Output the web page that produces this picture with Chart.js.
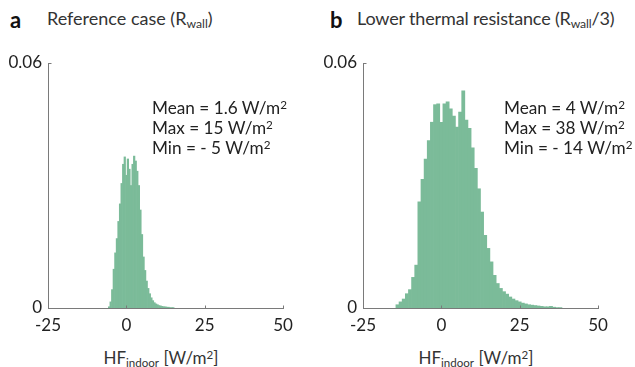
<!DOCTYPE html>
<html>
<head>
<meta charset="utf-8">
<script src="https://cdn.jsdelivr.net/npm/chart.js@4.4.1/dist/chart.umd.min.js"></script>
<style>
  html,body{margin:0;padding:0;background:#fff;}
  #wrap{position:relative;width:635px;height:367px;overflow:hidden;font-family:Lato,"Open Sans",sans-serif;color:#222;}
  canvas{position:absolute;}
  .lbl{position:absolute;white-space:nowrap;}
  .panel{font-weight:bold;font-size:22px;color:#111;}
  .title{font-size:18px;color:#333;}
  .stats{font-size:17.2px;line-height:20px;color:#222;}
  .xt{font-size:17px;color:#333;transform:translateX(-50%);}
  sub{font-size:0.68em;vertical-align:-0.25em;line-height:0;}
  sup{font-size:0.68em;vertical-align:0.45em;line-height:0;}
</style>
</head>
<body>
<div id="wrap">
  <canvas id="ca" width="317" height="300" style="left:0;top:40px;width:317px;height:300px"></canvas>
  <canvas id="cb" width="318" height="300" style="left:317px;top:40px;width:318px;height:300px"></canvas>

  <div class="lbl panel" style="left:10px;top:6px;">a</div>
  <div class="lbl title" style="left:47px;top:7px;">Reference case (R<sub>wall</sub>)</div>
  <div class="lbl panel" style="left:330px;top:6px;">b</div>
  <div class="lbl title" style="left:357px;top:7px;letter-spacing:-0.15px;">Lower thermal resistance (R<sub>wall</sub>/3)</div>

  <div class="lbl stats" style="left:152px;top:98px;">Mean = 1.6 W/m<sup>2</sup><br>Max = 15 W/m<sup>2</sup><br>Min = - 5 W/m<sup>2</sup></div>
  <div class="lbl stats" style="left:504px;top:98px;">Mean = 4 W/m<sup>2</sup><br>Max = 38 W/m<sup>2</sup><br>Min = - 14 W/m<sup>2</sup></div>

  <div class="lbl xt" style="left:161px;top:347px;">HF<sub>indoor</sub> [W/m<sup>2</sup>]</div>
  <div class="lbl xt" style="left:476px;top:347px;">HF<sub>indoor</sub> [W/m<sup>2</sup>]</div>
</div>
<script>
// ---- data ----
const binsA = [-5.5,-5,-4.5,-4,-3.5,-3,-2.5,-2,-1.5,-1,-0.5,0,0.5,1,1.5,2,2.5,3,3.5,4,4.5,5,5.5,6,6.5,7,7.5,8,8.5,9,9.5,10,10.5,11,11.5,12,12.5,13,13.5,14,14.5,15];
const freqA = [0.0003,0.0015,0.0045,0.0095,0.0135,0.0170,0.0212,0.0255,0.0305,0.0352,0.0370,0.0325,0.0365,0.0340,0.0300,0.0352,0.0372,0.0360,0.0335,0.0300,0.0240,0.0180,0.0125,0.0092,0.0066,0.0048,0.0035,0.0025,0.0018,0.0013,0.0010,0.0008,0.0006,0.0005,0.0004,0.0003,0.0003,0.0002,0.0002,0.0001,0.0001,0.0001];

const binsB = [-14,-13,-12,-11,-10,-9,-8,-7,-6,-5,-4,-3,-2,-1,0,1,2,3,4,5,6,7,8,9,10,11,12,13,14,15,16,17,18,19,20,21,22,23,24,25,26,27,28,29,30,31,32,33,34,35,36,37,38];
const freqB = [0.0008,0.0015,0.0022,0.0035,0.0045,0.0075,0.0105,0.0260,0.0315,0.0365,0.0410,0.0455,0.0498,0.0500,0.0455,0.0500,0.0505,0.0488,0.0470,0.0443,0.0480,0.0532,0.0460,0.0440,0.0392,0.0342,0.0292,0.0235,0.0178,0.0146,0.0113,0.0080,0.0060,0.0048,0.0040,0.0034,0.0027,0.0022,0.0018,0.0015,0.0012,0.0010,0.0008,0.0007,0.0006,0.0005,0.0004,0.0003,0.0003,0.0004,0.0002,0.0001,0.0001];

const xTicks = [-25, 0, 25, 50];
const yTicks = [0, 0.06];
const yTickLabels = ['0', '0.06'];

// ---- styling ----
const BAR = '#7bbb99';
const AXIS = '#7a7a7a';

const inwardTicks = {
  id: 'inwardTicks',
  afterDraw(chart) {
    const {ctx, scales:{x, y}} = chart;
    ctx.save();
    ctx.strokeStyle = AXIS;
    ctx.lineWidth = 1;
    ctx.beginPath();
    const yb = Math.round(y.getPixelForValue(0)) + 0.5;
    xTicks.slice(1).forEach(v => {
      const px = Math.round(x.getPixelForValue(v)) + 0.5;
      ctx.moveTo(px, yb); ctx.lineTo(px, yb - 3);
    });
    const xl = Math.round(x.getPixelForValue(xTicks[0])) + 0.5;
    const pt = Math.round(y.getPixelForValue(yTicks[1])) + 0.5;
    ctx.moveTo(xl, pt); ctx.lineTo(xl + 3, pt);
    ctx.stroke();
    ctx.restore();
  }
};

function makeChart(id, bins, freq, yAxisW, padRight) {
  return new Chart(document.getElementById(id), {
    type: 'bar',
    data: {
      datasets: [{
        data: bins.map((b, i) => ({x: b, y: freq[i]})),
        backgroundColor: BAR,
        borderWidth: 0,
        barPercentage: 1.0,
        categoryPercentage: 1.0
      }]
    },
    options: {
      responsive: false,
      animation: false,
      events: [],
      layout: {padding: {top: 23, right: padRight, left: 0, bottom: 0}},
      plugins: {legend: {display: false}, tooltip: {enabled: false}},
      scales: {
        x: {
          type: 'linear',
          min: -25, max: 50,
          offset: false,
          afterBuildTicks: s => { s.ticks = xTicks.map(v => ({value: v})); },
          afterFit: s => { s.height = 32; },
          grid: {display: false, drawTicks: false},
          border: {display: true, color: AXIS, width: 1},
          ticks: {padding: 7, color: '#222', font: {family: 'Lato', size: 17}, maxRotation: 0, autoSkip: false,
                  callback: v => String(v)}
        },
        y: {
          type: 'linear',
          min: 0, max: 0.06,
          afterBuildTicks: s => { s.ticks = yTicks.map(v => ({value: v})); },
          afterFit: s => { s.width = yAxisW; },
          grid: {display: false, drawTicks: false},
          border: {display: true, color: AXIS, width: 1},
          ticks: {padding: 6, color: '#222', font: {family: 'Lato', size: 17}, autoSkip: false,
                  callback: (v) => yTickLabels[yTicks.indexOf(v)] ?? ''}
        }
      }
    },
    plugins: [inwardTicks]
  });
}

makeChart('ca', binsA, freqA, 48, 34);
makeChart('cb', binsB, freqB, 46, 37);
</script>
</body>
</html>
